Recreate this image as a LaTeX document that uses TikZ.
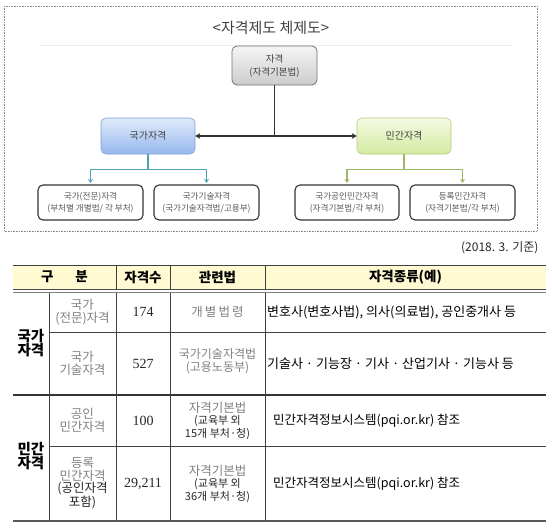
\documentclass[tikz,border=0pt]{standalone}
\usepackage{fontspec}
\setmainfont{Noto Sans CJK KR}
\newfontfamily\numf{Liberation Serif}
\usetikzlibrary{arrows.meta}
\definecolor{dot}{HTML}{8C8C8C}
\definecolor{txt}{HTML}{404040}
\definecolor{graytxt}{HTML}{808080}
\definecolor{tealc}{HTML}{4FA3B5}
\definecolor{olivec}{HTML}{9DB866}
\definecolor{hdrfill}{HTML}{FFFAD2}
\tikzset{
  rbox/.style={rounded corners=5pt, align=center, inner sep=1pt},
  rootbox/.style={rbox, draw=black!55, line width=0.8pt, top color=gray!8, bottom color=gray!40,
     minimum width=85pt, minimum height=39pt, font=\fontsize{9.5}{13}\selectfont, text=txt},
  bluebox/.style={rbox, draw={rgb,255:red,125;green,160;blue,210}, line width=0.6pt,
     top color={rgb,255:red,224;green,234;blue,251}, bottom color={rgb,255:red,150;green,184;blue,238},
     minimum width=94pt, minimum height=36pt, font=\fontsize{10}{12}\selectfont, text=txt},
  greenbox/.style={rbox, draw={rgb,255:red,175;green,205;blue,115}, line width=0.6pt,
     top color={rgb,255:red,246;green,251;blue,228}, bottom color={rgb,255:red,212;green,233;blue,160},
     minimum width=94pt, minimum height=36pt, font=\fontsize{10}{12}\selectfont, text=txt},
  leafbox/.style={rbox, draw=black!80, line width=1.1pt, fill=white,
     minimum width=105pt, minimum height=35pt, font=\fontsize{8.6}{12}\selectfont, text=black!65},
  mainarrow/.style={draw=black!80, line width=1.1pt},
  tealarrow/.style={draw=tealc, line width=1.3pt, -{Stealth[length=4pt,width=5pt]}},
  olivearrow/.style={draw=olivec, line width=1.3pt, -{Stealth[length=4pt,width=5pt]}},
  hdr/.style={font=\bfseries\fontsize{13.5}{14}\selectfont, text=black},
  cat/.style={align=center, font=\fontsize{12.5}{12.5}\selectfont, text=graytxt, inner sep=0pt},
  small/.style={font=\fontsize{11}{11}\selectfont},
  num/.style={font=\numf\fontsize{14}{15}\selectfont, text=black!85},
  grp/.style={align=center, font=\bfseries\fontsize{14.5}{13.5}\selectfont, text=black, inner sep=0pt},
  ex/.style={anchor=west, font=\fontsize{13}{14}\selectfont, text=black, inner sep=0pt},
  thinrule/.style={draw=black!75, line width=0.6pt},
  thickrule/.style={draw=black!80, line width=1.3pt},
}
\begin{document}
\begin{tikzpicture}[x=1pt,y=-1pt]
\useasboundingbox (0,0) rectangle (552,528);
% outer dotted frame
\draw[dot, densely dotted, line width=0.6pt] (4,6) rectangle (537,231);
\node[font=\fontsize{15}{17}\selectfont, text=txt] (title) at (271,28) {<자격제도 체제도>};
\draw[black!8, line width=1pt] (40,45) -- (512,45);
% diagram nodes
\node[rootbox] (root) at (274.5,65.5) {자격\\(자격기본법)};
\node[bluebox] (nat) at (148,136) {국가자격};
\node[greenbox] (pri) at (404,136) {민간자격};
\node[leafbox] (b1) at (90.5,202.5) {국가(전문)자격\\(부처별 개별법/ 각 부처)};
\node[leafbox] (b2) at (206.5,202.5) {국가기술자격\\(국가기술자격법/고용부)};
\node[leafbox, minimum width=104pt] (b3) at (347,202.5) {국가공인민간자격\\(자격기본법/각 부처)};
\node[leafbox] (b4) at (462.5,202.5) {등록민간자격\\(자격기본법/각 부처)};
% connectors
\draw[mainarrow, {Stealth[length=5pt,width=6pt]}-{Stealth[length=5pt,width=6pt]}] (nat.east) -- (pri.west);
\draw[mainarrow] (root.south) -- (root.south |- nat.east);
\draw[tealarrow, shorten >=1.5pt] (nat.south) -- ++(0,15) -| (b1.north);
\draw[tealarrow, shorten >=1.5pt] (nat.south) -- ++(0,15) -| (b2.north);
\draw[olivearrow, shorten >=1.5pt] (pri.south) -- ++(0,15) -| (b3.north);
\draw[olivearrow, shorten >=1.5pt] (pri.south) -- ++(0,15) -| (b4.north);
% date
\node[anchor=east, font=\fontsize{12}{13}\selectfont, text=black!85] (date) at (542,248) {(2018. 3. 기준)};
% table
\fill[hdrfill] (13,265) rectangle (546,289);
\draw[thinrule, line width=1pt] (13,265) -- (546,265);
\draw[draw=black!70, line width=0.9pt] (13,289) -- (546,289);
\draw[draw=black!50, line width=0.7pt] (13,292.5) -- (546,292.5);
\draw[thinrule] (49,332) -- (546,332);
\draw[thickrule] (13,395) -- (546,395);
\draw[thinrule] (49,446) -- (546,446);
\draw[draw=black!65, line width=1.3pt] (13,521) -- (546,521);
\draw[thinrule] (49,292.5) -- (49,521);
\foreach \xx in {116,170,265} {
  \draw[thinrule] (\xx,265) -- (\xx,289);
  \draw[thinrule] (\xx,292.5) -- (\xx,521);
}
% header
\node[hdr] (h1) at (64.5,277) {구\hspace{22pt}분};
\node[hdr] (h2) at (143,277) {자격수};
\node[hdr] (h3) at (217.5,277) {관련법};
\node[hdr] (h4) at (405.5,277) {자격종류(예)};
% group labels
\node[grp] (g1) at (31,343) {국가\\자격};
\node[grp] (g2) at (31,456) {민간\\자격};
% row 1
\node[cat] (r1a) at (82.5,312) {국가\\(전문)자격};
\node[num] (r1b) at (143,312) {174};
\node[cat] (r1c) at (217.5,312) {개\,별\,법\,령};
\node[ex] (r1d) at (267,312) {변호사(변호사법), 의사(의료법), 공인중개사 등};
% row 2
\node[cat] (r2a) at (82.5,363.5) {국가\\기술자격};
\node[num] (r2b) at (143,363.5) {527};
\node[cat, font=\fontsize{12}{12.5}\selectfont] (r2c) at (217.5,361) {국가기술자격법\\(고용노동부)};
\node[ex] (r2d) at (267,363.5) {기술사 · 기능장 · 기사 · 산업기사 · 기능사 등};
% row 3
\node[cat] (r3a) at (82.5,420.5) {공인\\민간자격};
\node[num] (r3b) at (143,420.5) {100};
\node[cat] (r3c) at (217.5,420.5) {자격기본법\\\textcolor{black!85}{\fontsize{11}{11}\selectfont(교육부 외}\\\textcolor{black!85}{\fontsize{11}{11}\selectfont 15개 부처·청)}};
\node[ex, font=\fontsize{12.5}{14}\selectfont] (r3d) at (273,420.5) {민간자격정보시스템(pqi.or.kr) 참조};
% row 4
\node[cat] (r4a) at (82.5,483.5) {등록\\민간자격\\\textcolor{black!85}{(공인자격}\\\textcolor{black!85}{포함)}};
\node[num] (r4b) at (143,483.5) {29,211};
\node[cat] (r4c) at (217.5,483.5) {자격기본법\\\textcolor{black!85}{\fontsize{11}{11}\selectfont(교육부 외}\\\textcolor{black!85}{\fontsize{11}{11}\selectfont 36개 부처·청)}};
\node[ex, font=\fontsize{12.5}{14}\selectfont] (r4d) at (273,483.5) {민간자격정보시스템(pqi.or.kr) 참조};
\end{tikzpicture}
\end{document}
